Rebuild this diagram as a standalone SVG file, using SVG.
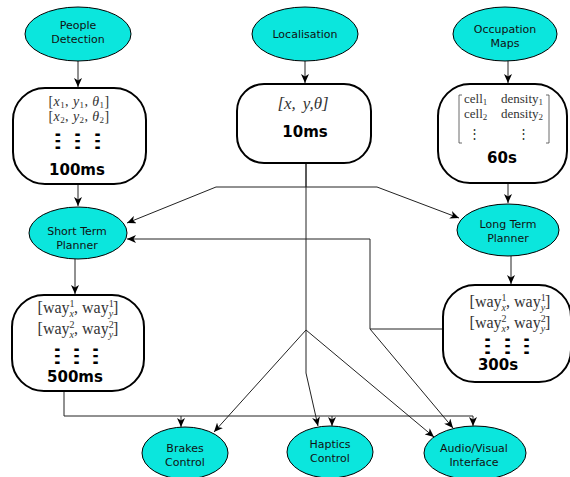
<svg xmlns="http://www.w3.org/2000/svg" width="570" height="477" viewBox="0 0 570 477">
<style>
.el{fill:#0be6dd;stroke:#000;stroke-width:1}
.bx{fill:#fff;stroke:#000;stroke-width:2}
.lb{font-family:"DejaVu Sans",sans-serif;font-size:11px;fill:#111;text-anchor:middle}
.tm{font-family:"DejaVu Sans",sans-serif;font-weight:bold;font-size:15px;fill:#000;text-anchor:middle}
.m{font-family:"Liberation Serif",serif;fill:#333;text-anchor:middle}
.ms{font-family:"Liberation Serif",serif;fill:#333;text-anchor:start}
.i{font-style:italic}
.vd{font-family:"DejaVu Sans",sans-serif;font-size:19px;fill:#000;text-anchor:middle}
.cn path{fill:none;stroke:#222;stroke-width:1}
.br{fill:none;stroke:#444;stroke-width:0.8}
</style>
<defs>
<marker id="ah" markerUnits="userSpaceOnUse" markerWidth="9" markerHeight="8" viewBox="0 0 9 8" refX="9" refY="4" orient="auto">
<path d="M0,0 L9,4 L0,8 L2.5,4 Z" fill="#000"/>
</marker>
</defs>

<g class="cn">
<path d="M78,61 L78,87" marker-end="url(#ah)"/>
<path d="M305,61 L305,83" marker-end="url(#ah)"/>
<path d="M508,61 L508,83" marker-end="url(#ah)"/>
<path d="M78,184 L78,206" marker-end="url(#ah)"/>
<path d="M306,163 L306,187 L216,187 L127,223" marker-end="url(#ah)"/>
<path d="M306,187 L377,187 L459,218" marker-end="url(#ah)"/>
<path d="M306,163 L306,330 L214,432" marker-end="url(#ah)"/>
<path d="M306,330 L434,437" marker-end="url(#ah)"/>
<path d="M306,330 L306,373 L318,426" marker-end="url(#ah)"/>
<path d="M508,183 L508,203" marker-end="url(#ah)"/>
<path d="M511,256 L511,284" marker-end="url(#ah)"/>
<path d="M443,329 L370,329 L370,239 L127,239" marker-end="url(#ah)"/>
<path d="M370,329 L453,428" marker-end="url(#ah)"/>
<path d="M75,259 L75,294" marker-end="url(#ah)"/>
<path d="M64,391 L64,416 L473,416 L473,426" marker-end="url(#ah)"/>
<path d="M181,416 L181,427" marker-end="url(#ah)"/>
<path d="M332,416 L332,426" marker-end="url(#ah)"/>
</g>

<g id="people-detection">
<ellipse class="el" cx="78" cy="34" rx="53" ry="27"/>
<text class="lb" x="78" y="29">People</text>
<text class="lb" x="78" y="43">Detection</text>
</g>

<g id="localisation">
<ellipse class="el" cx="305" cy="34" rx="53" ry="27"/>
<text class="lb" x="305" y="38">Localisation</text>
</g>

<g id="occupation-maps">
<ellipse class="el" cx="505" cy="34" rx="52" ry="27"/>
<text class="lb" x="505" y="33">Occupation</text>
<text class="lb" x="505" y="47">Maps</text>
</g>

<g id="people-data">
<rect class="bx" x="13" y="88" width="133" height="96" rx="32" ry="32"/>
<text class="m" x="79" y="106" font-size="14" letter-spacing="0.4">[<tspan class="i">x</tspan><tspan font-size="9" dy="2">1</tspan><tspan dy="-2">, </tspan><tspan class="i">y</tspan><tspan font-size="9" dy="2">1</tspan><tspan dy="-2">, </tspan><tspan class="i">θ</tspan><tspan font-size="9" dy="2">1</tspan><tspan dy="-2">]</tspan></text>
<text class="m" x="79" y="121" font-size="14" letter-spacing="0.4">[<tspan class="i">x</tspan><tspan font-size="9" dy="2">2</tspan><tspan dy="-2">, </tspan><tspan class="i">y</tspan><tspan font-size="9" dy="2">2</tspan><tspan dy="-2">, </tspan><tspan class="i">θ</tspan><tspan font-size="9" dy="2">2</tspan><tspan dy="-2">]</tspan></text>
<text class="vd" transform="translate(78,147) scale(2.3,1)" x="-8.5 0 8.7">⋮⋮⋮</text>
<text class="tm" x="77" y="175">100ms</text>
</g>

<g id="localisation-data">
<rect class="bx" x="237" y="84" width="134" height="79" rx="27" ry="27"/>
<text class="m i" x="303" y="109" font-size="17">[x,<tspan dx="7">y,θ]</tspan></text>
<text class="tm" x="305" y="137">10ms</text>
</g>

<g id="occupation-data">
<rect class="bx" x="438" y="84" width="129" height="99" rx="32" ry="32"/>
<path class="br" d="M462,95 L459,95 L459,143 L462,143 M546,95 L549,95 L549,143 L546,143"/>
<text class="ms" x="464" y="103" font-size="13">cell<tspan font-size="9" dy="2">1</tspan></text>
<text class="ms" x="501" y="103" font-size="13">density<tspan font-size="9" dy="2">1</tspan></text>
<text class="ms" x="464" y="118" font-size="13">cell<tspan font-size="9" dy="2">2</tspan></text>
<text class="ms" x="501" y="118" font-size="13">density<tspan font-size="9" dy="2">2</tspan></text>
<text class="m" x="474" y="138" font-size="13">⋮</text>
<text class="m" x="523" y="138" font-size="13">⋮</text>
<text class="tm" x="502" y="163">60s</text>
</g>

<g id="short-term-planner">
<ellipse class="el" cx="78" cy="233" rx="49" ry="26"/>
<text class="lb" x="77" y="235">Short Term</text>
<text class="lb" x="77" y="249">Planner</text>
</g>

<g id="long-term-planner">
<ellipse class="el" cx="508" cy="230" rx="51" ry="26"/>
<text class="lb" x="508" y="228">Long Term</text>
<text class="lb" x="508" y="242">Planner</text>
</g>

<g id="short-term-data">
<rect class="bx" x="12" y="295" width="132" height="96" rx="32" ry="32"/>
<text class="m" x="78" y="313" font-size="16">[way<tspan font-size="10" dy="-6">1</tspan><tspan font-size="10" class="i" dx="-5" dy="10">x</tspan><tspan dy="-4">, way</tspan><tspan font-size="10" dy="-6">1</tspan><tspan font-size="10" class="i" dx="-5" dy="10">y</tspan><tspan dy="-4">]</tspan></text>
<text class="m" x="78" y="334" font-size="16">[way<tspan font-size="10" dy="-6">2</tspan><tspan font-size="10" class="i" dx="-5" dy="10">x</tspan><tspan dy="-4">, way</tspan><tspan font-size="10" dy="-6">2</tspan><tspan font-size="10" class="i" dx="-5" dy="10">y</tspan><tspan dy="-4">]</tspan></text>
<text class="vd" transform="translate(77,362) scale(2.3,1)" x="-8.3 0 8.3">⋮⋮⋮</text>
<text class="tm" x="75" y="382">500ms</text>
</g>

<g id="long-term-data">
<rect class="bx" x="443" y="285" width="128" height="97" rx="32" ry="32"/>
<text class="m" x="510" y="307" font-size="16">[way<tspan font-size="10" dy="-6">1</tspan><tspan font-size="10" class="i" dx="-5" dy="10">x</tspan><tspan dy="-4">, way</tspan><tspan font-size="10" dy="-6">1</tspan><tspan font-size="10" class="i" dx="-5" dy="10">y</tspan><tspan dy="-4">]</tspan></text>
<text class="m" x="510" y="328" font-size="16">[way<tspan font-size="10" dy="-6">2</tspan><tspan font-size="10" class="i" dx="-5" dy="10">x</tspan><tspan dy="-4">, way</tspan><tspan font-size="10" dy="-6">2</tspan><tspan font-size="10" class="i" dx="-5" dy="10">y</tspan><tspan dy="-4">]</tspan></text>
<text class="vd" transform="translate(508,352) scale(2.3,1)" x="-8.7 0 8.3">⋮⋮⋮</text>
<text class="tm" x="498" y="370">300s</text>
</g>

<g id="brakes-control">
<ellipse class="el" cx="185" cy="453" rx="43" ry="26"/>
<text class="lb" x="185" y="452">Brakes</text>
<text class="lb" x="185" y="466">Control</text>
</g>

<g id="haptics-control">
<ellipse class="el" cx="330" cy="452" rx="43" ry="26"/>
<text class="lb" x="330" y="448">Haptics</text>
<text class="lb" x="330" y="462">Control</text>
</g>

<g id="audio-visual-interface">
<ellipse class="el" cx="475" cy="453" rx="51" ry="27"/>
<text class="lb" x="474" y="452">Audio/Visual</text>
<text class="lb" x="474" y="466">Interface</text>
</g>
</svg>
